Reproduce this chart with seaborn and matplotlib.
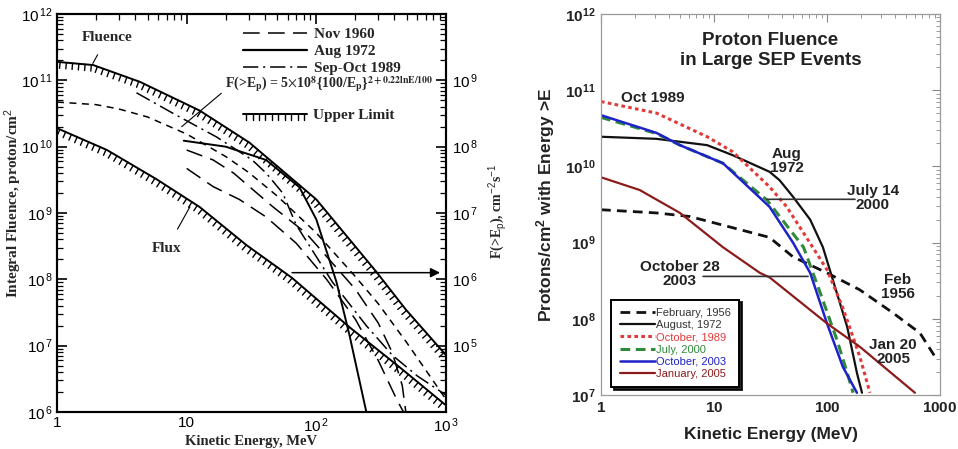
import numpy as np
import pandas as pd
import matplotlib
matplotlib.use("Agg")
import matplotlib.pyplot as plt
import matplotlib.patheffects as pe
from matplotlib.lines import Line2D
from matplotlib.ticker import FuncFormatter, LogLocator, FixedLocator, NullFormatter
import seaborn as sns

#%% data - left panel (design environment, fluence / flux)
upper_fluence_E = [1, 1.9, 4.35, 12.6, 30.5, 100, 290, 490, 1000]
upper_fluence_F = [1.9e11, 1.7e11, 9.5e10, 3.5e10, 1.15e10, 1.6e9, 1.3e8, 3.5e7, 7.2e6]

upper_flux_E = [1, 2.43, 5.9, 12.6, 28.8, 65, 180, 435, 980]
upper_flux_F = [1.9e8, 8.9e7, 3.2e7, 1.23e7, 3.3e6, 1.05e6, 1.9e5, 4.8e4, 1.3e4]   # cm-2 s-1

model_E = [1, 2, 3, 5, 10, 20, 30, 50, 100, 200, 300, 500, 1000]
model_F = [4.7e10, 4.3e10, 3.7e10, 2.8e10, 1.55e10, 7.1e9, 4.1e9, 1.8e9, 5.0e8, 1.1e8, 4.3e7, 1.1e7, 1.55e6]

nov1960a_E = [10, 16, 23, 46, 83, 200, 300, 385, 460, 490]
nov1960a_F = [8.9e9, 6.3e9, 4.0e9, 1.25e9, 5.0e8, 7.1e7, 2.2e7, 7.9e6, 2.5e6, 1.0e6]
nov1960b_E = [10, 16, 25.5, 41, 70, 120, 200, 300, 420, 470]
nov1960b_F = [4.7e9, 2.5e9, 1.6e9, 8.7e8, 3.5e8, 1.0e8, 2.5e7, 6.0e6, 1.5e6, 1.0e6]

aug1972_E = [9.5, 20, 41, 74, 100, 143, 180, 243]
aug1972_F = [1.23e10, 1.0e10, 6.3e9, 2.45e9, 8.0e8, 9.1e7, 1.45e7, 1.0e6]

sepoct1989_E = [4.1, 7.8, 17, 32, 41, 55, 70, 133, 243, 385, 600, 1000]
sepoct1989_F = [6.5e10, 3.2e10, 1.4e10, 6.3e9, 4.0e9, 2.0e9, 6.6e8, 9.1e7, 2.0e7, 7.2e6, 3.5e6, 1.8e6]

#%% data - right panel (large SEP events)
feb1956_E = [1, 3.1, 6.1, 13.9, 31, 50, 100, 195, 382, 665, 940]
feb1956_F = [2.7e9, 2.45e9, 2.2e9, 1.6e9, 1.17e9, 6.5e8, 4.0e8, 2.4e8, 1.2e8, 6.5e7, 2.9e7]

aug1972r_E = [1, 3.1, 8.7, 14.7, 31, 38, 50, 71, 92, 113, 151, 184, 204]
aug1972r_F = [2.45e10, 2.3e10, 1.9e10, 1.4e10, 8.5e9, 6.6e9, 4.0e9, 2.0e9, 8.7e8, 3.2e8, 7.8e7, 1.95e7, 1.07e7]

oct1989_E = [1, 3.1, 8.7, 14.7, 31, 44, 71, 100, 138, 195, 240]
oct1989_F = [7.1e10, 5.0e10, 2.45e10, 1.55e10, 5.4e9, 2.95e9, 9.8e8, 4.4e8, 1.4e8, 3.2e7, 1.07e7]

jul2000_E = [1, 3.1, 5.0, 12, 29.5, 62, 87, 123, 151, 170]
jul2000_F = [4.4e10, 2.7e10, 1.9e10, 1.1e10, 3.6e9, 8.7e8, 2.2e8, 5.2e7, 1.95e7, 1.07e7]

oct2003_E = [1, 3.1, 5.0, 12, 31, 50, 71, 100, 138, 184]
oct2003_F = [4.7e10, 2.75e10, 1.9e10, 1.1e10, 2.95e9, 1.0e9, 4.0e8, 8.7e7, 2.35e7, 1.07e7]

jan2005_E = [1, 2.2, 5.0, 12, 25.5, 31, 100, 195, 600]
jan2005_F = [7.2e9, 4.9e9, 2.45e9, 8.7e8, 4.0e8, 3.5e8, 8.7e7, 4.3e7, 1.07e7]

right_labels = ["February, 1956", "August, 1972", "October, 1989", "July, 2000", "October, 2003", "January, 2005"]

#%% style
sns.set_theme(style="white")
plt.rcParams["font.family"] = ["Liberation Sans", "DejaVu Sans"]
plt.rcParams["mathtext.fontset"] = "custom"
plt.rcParams["mathtext.rm"] = "Liberation Sans"
plt.rcParams["mathtext.bf"] = "Liberation Sans:bold"
plt.rcParams["mathtext.it"] = "Liberation Sans:italic"
plt.rcParams["lines.scale_dashes"] = False

serif_bold = dict(family=["Liberation Serif", "DejaVu Serif"], weight="bold")

fig = plt.figure(figsize=(9.58, 4.49), dpi=100)
axL = fig.add_axes([57/958, 1-412/449, (446-57)/958, (412-14)/449])
axR = fig.add_axes([601/958, 1-395/449, (940-601)/958, (395-14)/449])

#%% left panel
axL.set_xscale("log")
axL.set_yscale("log")
axF = axL.twinx()
axF.set_yscale("log")

hatch = [pe.withTickedStroke(angle=-90, spacing=4.5, length=1.0, linewidth=1.0)]
long_dash = (0, (12, 6))
short_dash = (0, (5, 4))
dash_dot = (0, (11, 3.5, 1.5, 3.5))

sns.lineplot(x=upper_fluence_E, y=upper_fluence_F, ax=axL, color="black", lw=1.4,
             path_effects=hatch, estimator=None)
sns.lineplot(x=upper_flux_E, y=upper_flux_F, ax=axF, color="black", lw=1.4,
             path_effects=hatch, estimator=None)
sns.lineplot(x=model_E, y=model_F, ax=axL, color="black", lw=1.1, linestyle=short_dash, estimator=None)
sns.lineplot(x=nov1960a_E, y=nov1960a_F, ax=axL, color="black", lw=1.1, linestyle=long_dash, estimator=None)
sns.lineplot(x=nov1960b_E, y=nov1960b_F, ax=axL, color="black", lw=1.1, linestyle=long_dash, estimator=None)
sns.lineplot(x=aug1972_E, y=aug1972_F, ax=axL, color="black", lw=1.4, estimator=None)
sns.lineplot(x=sepoct1989_E, y=sepoct1989_F, ax=axL, color="black", lw=1.1, linestyle=dash_dot, estimator=None)

axL.set_xlim(1, 1000)
axL.set_ylim(1e6, 1e12)
axF.set_ylim(1e4, 1e10)

sci = FuncFormatter(lambda v, p: r"$10^{\,%d}$" % round(np.log10(v)))
axL.yaxis.set_major_locator(LogLocator(base=10, numticks=10))
axL.yaxis.set_minor_locator(LogLocator(base=10, subs=np.arange(2, 10), numticks=10))
axL.yaxis.set_major_formatter(sci)
axL.yaxis.set_minor_formatter(NullFormatter())
axL.xaxis.set_major_locator(FixedLocator([1, 10, 100, 1000]))
axL.xaxis.set_minor_locator(LogLocator(base=10, subs=np.arange(2, 10), numticks=10))
axL.xaxis.set_major_formatter(FuncFormatter(lambda v, p: "%d" % v if v < 100 else r"$10^{\,%d}$" % round(np.log10(v))))
axL.xaxis.set_minor_formatter(NullFormatter())
axF.yaxis.set_major_locator(FixedLocator([1e5, 1e6, 1e7, 1e8, 1e9]))
axF.yaxis.set_minor_locator(LogLocator(base=10, subs=np.arange(2, 10), numticks=10))
axF.yaxis.set_major_formatter(sci)
axF.yaxis.set_minor_formatter(NullFormatter())

axL.tick_params(which="both", direction="in", top=True, right=False, labelsize=11, colors="black", pad=3)
axL.tick_params(which="major", length=7, width=1.2)
axL.tick_params(which="minor", length=4, width=0.9)
axF.tick_params(which="both", direction="in", labelsize=11, colors="black", pad=4)
axF.tick_params(which="major", length=7, width=1.2)
axF.tick_params(which="minor", length=4, width=0.9)
for ax in (axL, axF):
    for s in ax.spines.values():
        s.set_color("black")
        s.set_linewidth(1.5)

axL.set_xlabel("Kinetic Energy, MeV", fontsize=10.5, **serif_bold)
axL.xaxis.set_label_coords(0.5, -0.058)
axL.set_ylabel("Integral Fluence, proton/cm$^2$", fontsize=11, **serif_bold)
axL.yaxis.set_label_coords(-0.085, 0.525)
axF.set_ylabel(r"F(>E$_\mathrm{p}$), cm$^{-2}$s$^{-1}$", fontsize=10, **serif_bold)
axF.yaxis.set_label_coords(1.103, 0.505)

# legend for the events
legend_font = dict(family=["Liberation Serif"], weight="bold", size=11)
ev_handles = [Line2D([], [], color="black", lw=1.1, linestyle=long_dash),
              Line2D([], [], color="black", lw=1.6),
              Line2D([], [], color="black", lw=1.1, linestyle=dash_dot)]
leg1 = axL.legend(ev_handles, ["Nov 1960", "Aug 1972", "Sep-Oct 1989"], loc="upper left",
                  bbox_to_anchor=(0.478, 0.966), frameon=False, handlelength=4.2,
                  handletextpad=0.45, labelspacing=0.22, borderpad=0, borderaxespad=0,
                  prop=legend_font)
axL.add_artist(leg1)
up_handle = [Line2D([], [], color="black", lw=1.4, path_effects=hatch)]
axL.legend(up_handle, ["Upper Limit"], loc="upper left", bbox_to_anchor=(0.478, 0.762),
           frameon=False, handlelength=4.2, handletextpad=0.4, borderpad=0, borderaxespad=0,
           prop=legend_font)

txt_kw = dict(fontsize=11, **serif_bold)
axL.annotate("Fluence", xy=(1.89, 1.8e11), xytext=(2.43, 4.4e11), ha="center", va="center",
             arrowprops=dict(arrowstyle="-", lw=0.8, color="black", shrinkA=6, shrinkB=0), **txt_kw)
axL.annotate("Flux", xy=(10.6, 1.24e9), xytext=(7.0, 2.9e8), ha="center", va="center",
             arrowprops=dict(arrowstyle="-", lw=0.8, color="black", shrinkA=8, shrinkB=0), **txt_kw)
axL.annotate(r"F(>E$_\mathbf{p}$) = 5$\times$10$^\mathbf{8}${100/E$_\mathbf{p}$}$^\mathbf{2+0.22lnE/100}$",
             xy=(9.15, 2.0e10), xytext=(19.6, 8.6e10), ha="left", va="center", math_fontfamily="stix",
             arrowprops=dict(arrowstyle="-", lw=0.8, color="black", shrinkA=0, shrinkB=0,
                             relpos=(0, 0.2)), fontsize=10, **serif_bold)
axL.annotate("", xy=(900, 1.26e8), xytext=(65, 1.26e8),
             arrowprops=dict(arrowstyle="-|>", lw=1.1, color="black", mutation_scale=14,
                             shrinkA=0, shrinkB=0))

#%% right panel
axR.set_xscale("log")
axR.set_yscale("log")
red = "#e23a3a"
green = "#2f8a3c"
blue = "#1f22c8"
maroon = "#8c1c1c"
sns.lineplot(x=feb1956_E, y=feb1956_F, ax=axR, color="#111111", lw=2.0, linestyle=(0, (7, 4.5)),
             estimator=None, label=right_labels[0])
sns.lineplot(x=aug1972r_E, y=aug1972r_F, ax=axR, color="#111111", lw=1.6, estimator=None, label=right_labels[1])
sns.lineplot(x=oct1989_E, y=oct1989_F, ax=axR, color=red, lw=2.2, linestyle=(0, (2.6, 2.4)),
             estimator=None, label=right_labels[2])
sns.lineplot(x=jul2000_E, y=jul2000_F, ax=axR, color=green, lw=2.2, linestyle=(0, (7, 4)),
             estimator=None, label=right_labels[3])
sns.lineplot(x=oct2003_E, y=oct2003_F, ax=axR, color=blue, lw=1.8, estimator=None, label=right_labels[4])
sns.lineplot(x=jan2005_E, y=jan2005_F, ax=axR, color=maroon, lw=1.6, estimator=None, label=right_labels[5])

axR.set_xlim(1, 1000)
axR.set_ylim(1e7, 1e12)
axR.yaxis.set_major_locator(LogLocator(base=10, numticks=10))
axR.yaxis.set_minor_locator(LogLocator(base=10, subs=np.arange(2, 10), numticks=10))
axR.yaxis.set_major_formatter(FuncFormatter(lambda v, p: r"$\mathbf{10^{%d}}$" % round(np.log10(v))))
axR.yaxis.set_minor_formatter(NullFormatter())
axR.xaxis.set_major_locator(FixedLocator([1, 10, 100, 1000]))
axR.xaxis.set_minor_locator(LogLocator(base=10, subs=np.arange(2, 10), numticks=10))
axR.xaxis.set_major_formatter(FuncFormatter(lambda v, p: r"$\mathbf{%d}$" % v))
axR.xaxis.set_minor_formatter(NullFormatter())
axR.tick_params(which="both", direction="in", top=True, right=True, labelsize=11,
                color="#888888", labelcolor="#222222", pad=4)
axR.tick_params(which="major", length=6, width=0.8)
axR.tick_params(which="minor", length=3, width=0.6)
for s in axR.spines.values():
    s.set_color("#9a9a9a")
    s.set_linewidth(0.9)

axR.set_xlabel("Kinetic Energy (MeV)", fontsize=12.5, fontweight="bold", color="#222222")
axR.xaxis.set_label_coords(0.5, -0.085)
axR.set_ylabel("Protons/cm$^\\mathbf{2}$ with Energy >E", fontsize=12.5, fontweight="bold", color="#222222")
axR.yaxis.set_label_coords(-0.13, 0.5)

axR.text(0.5, 0.952, "Proton Fluence\nin Large SEP Events", transform=axR.transAxes, ha="center",
         va="top", fontsize=13.5, fontweight="bold", color="#222222", linespacing=1.2)

ann_kw = dict(fontsize=11, fontweight="bold", color="#222222", ha="center", va="center", linespacing=1.0)
axR.text(2.9, 7.9e10, "Oct 1989", **ann_kw)
axR.text(44, 1.17e10, "Aug\n1972", **ann_kw)
axR.text(255, 3.85e9, "July 14\n2000", **ann_kw)
axR.text(5.0, 3.9e8, "October 28\n2003", **ann_kw)
axR.text(425, 2.6e8, "Feb\n1956", **ann_kw)
axR.text(384, 3.7e7, "Jan 20\n2005", **ann_kw)
axR.annotate("", xy=(29.4, 3.7e9), xytext=(177, 3.7e9),
             arrowprops=dict(arrowstyle="-", lw=1.2, color="#333333", shrinkA=0, shrinkB=0))
axR.annotate("", xy=(8.0, 3.6e8), xytext=(68, 3.6e8),
             arrowprops=dict(arrowstyle="-", lw=1.2, color="#333333", shrinkA=0, shrinkB=0))

legR = axR.legend(loc="lower left", bbox_to_anchor=(0.03, 0.02), frameon=True, fancybox=False,
                  shadow=dict(color="black", alpha=0.85), edgecolor="black", framealpha=1,
                  prop=dict(size=8), handlelength=3.2, handletextpad=0.1, labelspacing=0.2,
                  borderpad=0.75, borderaxespad=0,
                  labelcolor=["#333333", "#333333", red, green, blue, maroon])
legR.get_frame().set_linewidth(1.4)

fig.savefig("out.png", dpi=100, facecolor="white")
